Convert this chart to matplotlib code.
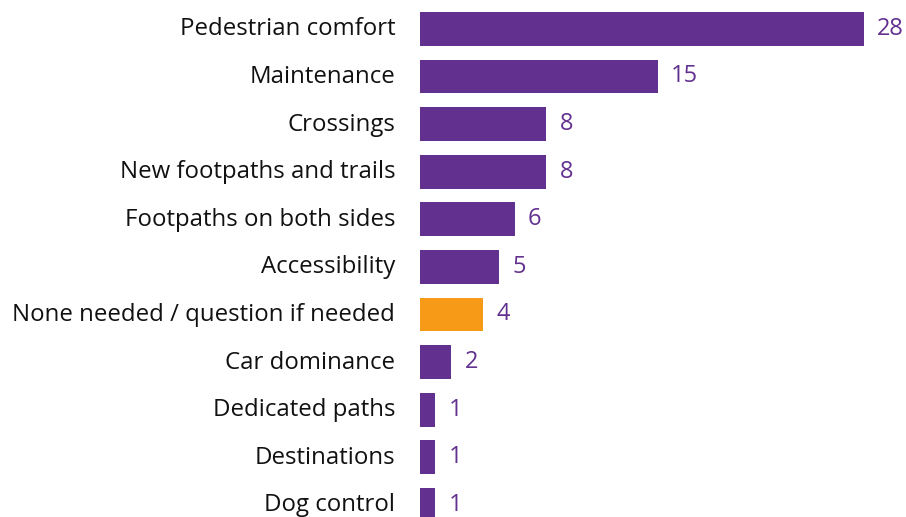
import matplotlib
matplotlib.use("Agg")
import matplotlib.pyplot as plt
import matplotlib.transforms as mtransforms

categories = [
    "Pedestrian comfort",
    "Maintenance",
    "Crossings",
    "New footpaths and trails",
    "Footpaths on both sides",
    "Accessibility",
    "None needed / question if needed",
    "Car dominance",
    "Dedicated paths",
    "Destinations",
    "Dog control",
]
counts = [28, 15, 8, 8, 6, 5, 4, 2, 1, 1, 1]
highlight = "None needed / question if needed"

purple = "#62308F"
orange = "#F79A18"

plt.rcParams["font.family"] = ["Open Sans", "DejaVu Sans"]

fig = plt.figure(figsize=(9.06, 5.17), dpi=100)
ax = fig.add_axes([419.5 / 906, 0, 1 - 419.5 / 906, 1])

colors = [orange if c == highlight else purple for c in categories]
ypos = list(range(len(categories)))
ax.barh(ypos, counts, height=0.71, color=colors)

for y, v in zip(ypos, counts):
    ax.annotate(str(v), (v, y), xytext=(9.5, 0), textcoords="offset points",
                ha="left", va="center", color=purple, fontsize=17)

ax.set_yticks(ypos)
ax.set_yticklabels(categories, fontsize=17.3, color="#111111")
ax.tick_params(axis="y", length=0, pad=17.5)
# nudge category labels up a little, like the original
shift = mtransforms.ScaledTranslation(0, 2.5 / 100, fig.dpi_scale_trans)
for lbl in ax.get_yticklabels():
    lbl.set_transform(lbl.get_transform() + shift)
ax.set_xticks([])
ax.set_xlim(0, (906 - 419.5) / 15.87)
ax.set_ylim(10.256, -0.605)
for s in ax.spines.values():
    s.set_visible(False)

fig.savefig("out.png", dpi=100)
